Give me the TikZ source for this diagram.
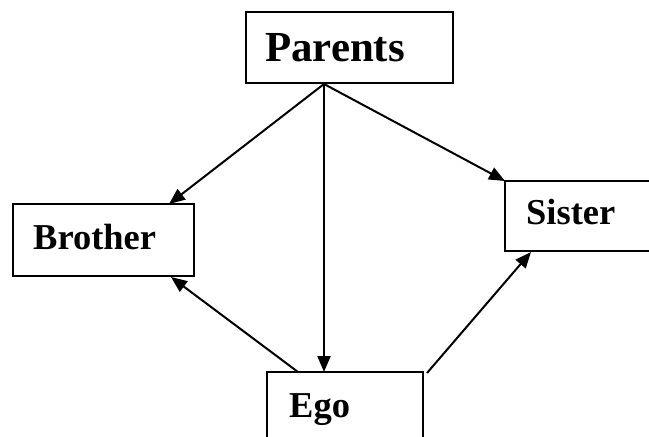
\documentclass[tikz,border=0pt]{standalone}
\usepackage{fontspec}
\setmainfont{Liberation Serif}
\usetikzlibrary{arrows.meta}
\begin{document}
\begin{tikzpicture}[x=1bp,y=-1bp,
  box/.style={draw,line width=2bp,rectangle,inner sep=0pt},
  lbl/.style={anchor=base west,inner sep=0pt,font=\bfseries},
  link/.style={line width=2bp,-{Triangle[length=16bp,width=13bp]}}]
  \useasboundingbox (0,0) rectangle (649,437);
  \clip (0,0) rectangle (649,437);
  % boxes
  \draw[box] (246,12) rectangle (453,83);
  \draw[box] (13,204) rectangle (194,276);
  \draw[box] (505,181) rectangle (660,251);
  \draw[box] (267,372) rectangle (423,450);
  % labels
  \node[lbl,font=\bfseries\fontsize{43}{46}\selectfont] (par) at (265,62) {Parents};
  \node[lbl,font=\bfseries\fontsize{36.6}{40}\selectfont] (bro) at (33,250) {Brother};
  \node[lbl,font=\bfseries\fontsize{36.6}{40}\selectfont] (sis) at (526,225) {Sister};
  \node[lbl,font=\bfseries\fontsize{36.6}{40}\selectfont] (ego) at (289,417) {Ego};
  % connector ends
  \coordinate (pfoot) at (324,84);
  \coordinate (brotop) at (169,204);
  \coordinate (brobot) at (171,277);
  \coordinate (sistop) at (505,181);
  \coordinate (sisbot) at (531,252);
  \coordinate (egotop) at (324,372);
  \coordinate (egoleft) at (298,372);
  \coordinate (egoright) at (427,373);
  % connectors
  \draw[link] (pfoot) -- (brotop);
  \draw[link] (pfoot) -- (sistop);
  \draw[link] (pfoot) -- (egotop);
  \draw[link] (egoleft) -- (brobot);
  \draw[link] (egoright) -- (sisbot);
\end{tikzpicture}
\end{document}
